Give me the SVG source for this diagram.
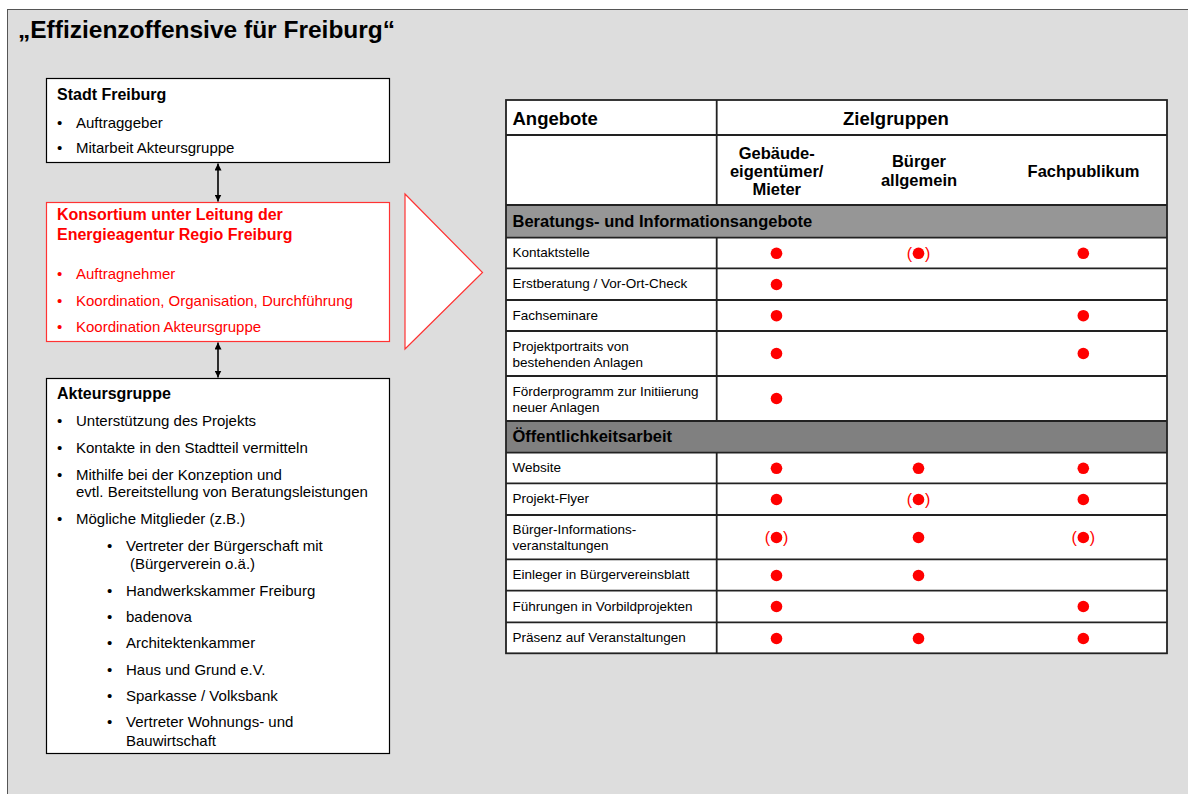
<svg xmlns="http://www.w3.org/2000/svg" width="1188" height="794" viewBox="0 0 1188 794">
<defs>
<marker id="ah" viewBox="0 0 10 10" refX="10" refY="5" markerWidth="7" markerHeight="7" orient="auto-start-reverse" markerUnits="userSpaceOnUse">
<path d="M0,0 L10,5 L0,10 Z" fill="#000"/>
</marker>
<style>
text{font-family:"Liberation Sans",Arial,Helvetica,sans-serif;}
.title{font-size:24.5px;font-weight:bold;fill:#000;}
.h{font-size:16px;font-weight:bold;fill:#000;}
.hr{font-size:16px;font-weight:bold;fill:#ff0000;}
.t{font-size:15px;fill:#000;}
.tr{font-size:15px;fill:#ff0000;}
.th{font-size:18.5px;font-weight:bold;fill:#000;}
.ch{font-size:16.5px;font-weight:bold;fill:#000;text-anchor:middle;}
.sec{font-size:16.5px;font-weight:bold;fill:#000;}
.c{font-size:13.5px;fill:#000;}
.p{font-size:16px;fill:#ff0000;}
.pe{text-anchor:end;}
.box{fill:#fff;stroke:#000;stroke-width:1.2;}
.rbox{fill:#fff;stroke:#ff3333;stroke-width:1.2;}
.grid{stroke:#222;stroke-width:1.8;fill:none;}
.dot{fill:#ff0000;}
.conn{stroke:#000;stroke-width:1.6;fill:none;}
</style>
</defs>
<rect x="0" y="0" width="1188" height="794" fill="#fff"/>
<rect x="7.5" y="9.5" width="1200" height="800" fill="#dddddd" stroke="#555" stroke-width="1"/>
<text class="title" x="18" y="38">„Effizienzoffensive für Freiburg“</text>

<g id="stadt">
<rect class="box" x="46.5" y="78.5" width="343" height="84"/>
<text class="h" x="57" y="100">Stadt Freiburg</text>
<text class="t" x="57" y="128">•</text><text class="t" x="76" y="128">Auftraggeber</text>
<text class="t" x="57" y="153">•</text><text class="t" x="76" y="153">Mitarbeit Akteursgruppe</text>
</g>

<g id="konsortium">
<rect class="rbox" x="46.5" y="202.5" width="343" height="139"/>
<text class="hr" x="57" y="219.5">Konsortium unter Leitung der</text>
<text class="hr" x="57" y="240">Energieagentur Regio Freiburg</text>
<text class="tr" x="57" y="279">•</text><text class="tr" x="76" y="279">Auftragnehmer</text>
<text class="tr" x="57" y="306">•</text><text class="tr" x="76" y="306">Koordination, Organisation, Durchführung</text>
<text class="tr" x="57" y="332">•</text><text class="tr" x="76" y="332">Koordination Akteursgruppe</text>
</g>

<g id="akteursgruppe">
<rect class="box" x="46.5" y="378.5" width="343" height="375"/>
<text class="h" x="57" y="398.5">Akteursgruppe</text>
<text class="t" x="57" y="426">•</text><text class="t" x="76" y="426">Unterstützung des Projekts</text>
<text class="t" x="57" y="452.5">•</text><text class="t" x="76" y="452.5">Kontakte in den Stadtteil vermitteln</text>
<text class="t" x="57" y="480">•</text><text class="t" x="76" y="480">Mithilfe bei der Konzeption und</text>
<text class="t" x="76" y="497">evtl. Bereitstellung von Beratungsleistungen</text>
<text class="t" x="57" y="524">•</text><text class="t" x="76" y="524">Mögliche Mitglieder (z.B.)</text>
<text class="t" x="107" y="551">•</text><text class="t" x="126" y="551">Vertreter der Bürgerschaft mit</text>
<text class="t" x="130" y="568.5">(Bürgerverein o.ä.)</text>
<text class="t" x="107" y="595.5">•</text><text class="t" x="126" y="595.5">Handwerkskammer Freiburg</text>
<text class="t" x="107" y="621.5">•</text><text class="t" x="126" y="621.5">badenova</text>
<text class="t" x="107" y="648">•</text><text class="t" x="126" y="648">Architektenkammer</text>
<text class="t" x="107" y="675">•</text><text class="t" x="126" y="675">Haus und Grund e.V.</text>
<text class="t" x="107" y="701">•</text><text class="t" x="126" y="701">Sparkasse / Volksbank</text>
<text class="t" x="107" y="727">•</text><text class="t" x="126" y="727">Vertreter Wohnungs- und</text>
<text class="t" x="126" y="746">Bauwirtschaft</text>
</g>

<g id="pfeil">
<polygon points="405,194 482.5,272.5 405,349" fill="#fff" stroke="#ff3333" stroke-width="1.2"/>
</g>

<g id="connectors">
<line class="conn" x1="218" y1="163.5" x2="218" y2="201.5" marker-start="url(#ah)" marker-end="url(#ah)"/>
<line class="conn" x1="218" y1="342.5" x2="218" y2="377.5" marker-start="url(#ah)" marker-end="url(#ah)"/>
</g>

<g id="tabelle">
<rect x="506" y="100" width="661" height="553.3" fill="#fff"/>
<rect x="506" y="205" width="661" height="32.7" fill="#969696"/>
<rect x="506" y="421" width="661" height="31.7" fill="#808080"/>
<g class="grid">
<rect x="506" y="100" width="661" height="553.3"/>
<line x1="506" y1="135" x2="1167" y2="135"/>
<line x1="506" y1="205" x2="1167" y2="205"/>
<line x1="506" y1="237.7" x2="1167" y2="237.7"/>
<line x1="506" y1="268.3" x2="1167" y2="268.3"/>
<line x1="506" y1="300" x2="1167" y2="300"/>
<line x1="506" y1="331" x2="1167" y2="331"/>
<line x1="506" y1="376" x2="1167" y2="376"/>
<line x1="506" y1="421" x2="1167" y2="421"/>
<line x1="506" y1="452.7" x2="1167" y2="452.7"/>
<line x1="506" y1="483.3" x2="1167" y2="483.3"/>
<line x1="506" y1="515" x2="1167" y2="515"/>
<line x1="506" y1="559.3" x2="1167" y2="559.3"/>
<line x1="506" y1="590.7" x2="1167" y2="590.7"/>
<line x1="506" y1="622.3" x2="1167" y2="622.3"/>
<line x1="716.7" y1="100" x2="716.7" y2="205"/>
<line x1="716.7" y1="237.7" x2="716.7" y2="421"/>
<line x1="716.7" y1="452.7" x2="716.7" y2="653.3"/>
</g>
<text class="th" x="512.5" y="124.5">Angebote</text>
<text class="th" x="843" y="124.5">Zielgruppen</text>
<text class="ch" x="776.7" y="158.5">Gebäude-</text>
<text class="ch" x="776.7" y="176.7">eigentümer/</text>
<text class="ch" x="776.7" y="195">Mieter</text>
<text class="ch" x="919" y="166.7">Bürger</text>
<text class="ch" x="919" y="186">allgemein</text>
<text class="ch" x="1083.5" y="176.7">Fachpublikum</text>
<text class="sec" x="512.5" y="226.7">Beratungs- und Informationsangebote</text>
<text class="sec" x="512.5" y="442">Öffentlichkeitsarbeit</text>

<text class="c" x="512.5" y="257">Kontaktstelle</text>
<text class="c" x="512.5" y="288">Erstberatung / Vor-Ort-Check</text>
<text class="c" x="512.5" y="319.5">Fachseminare</text>
<text class="c" x="512.5" y="350.5">Projektportraits von</text>
<text class="c" x="512.5" y="366.5">bestehenden Anlagen</text>
<text class="c" x="512.5" y="395.5">Förderprogramm zur Initiierung</text>
<text class="c" x="512.5" y="411.5">neuer Anlagen</text>
<text class="c" x="512.5" y="472">Website</text>
<text class="c" x="512.5" y="503">Projekt-Flyer</text>
<text class="c" x="512.5" y="534">Bürger-Informations-</text>
<text class="c" x="512.5" y="550">veranstaltungen</text>
<text class="c" x="512.5" y="579">Einleger in Bürgervereinsblatt</text>
<text class="c" x="512.5" y="610.5">Führungen in Vorbildprojekten</text>
<text class="c" x="512.5" y="642">Präsenz auf Veranstaltungen</text>

<g class="dot">
<circle cx="776.5" cy="253.3" r="5.8"/>
<circle cx="918.5" cy="253.3" r="5.8"/>
<circle cx="1083.3" cy="253.3" r="5.8"/>
<circle cx="776.5" cy="284.5" r="5.8"/>
<circle cx="776.5" cy="315.7" r="5.8"/>
<circle cx="1083.3" cy="315.7" r="5.8"/>
<circle cx="776.5" cy="353.5" r="5.8"/>
<circle cx="1083.3" cy="353.5" r="5.8"/>
<circle cx="776.5" cy="398.5" r="5.8"/>
<circle cx="776.5" cy="468.3" r="5.8"/>
<circle cx="918.5" cy="468.3" r="5.8"/>
<circle cx="1083.3" cy="468.3" r="5.8"/>
<circle cx="776.5" cy="499.5" r="5.8"/>
<circle cx="918.5" cy="499.5" r="5.8"/>
<circle cx="1083.3" cy="499.5" r="5.8"/>
<circle cx="776.5" cy="537.5" r="5.8"/>
<circle cx="918.5" cy="537.5" r="5.8"/>
<circle cx="1083.3" cy="537.5" r="5.8"/>
<circle cx="776.5" cy="575.5" r="5.8"/>
<circle cx="918.5" cy="575.5" r="5.8"/>
<circle cx="776.5" cy="606.5" r="5.8"/>
<circle cx="1083.3" cy="606.5" r="5.8"/>
<circle cx="776.5" cy="638.5" r="5.8"/>
<circle cx="918.5" cy="638.5" r="5.8"/>
<circle cx="1083.3" cy="638.5" r="5.8"/>
</g>
<text class="p pe" x="912" y="259">(</text><text class="p" x="925" y="259">)</text>
<text class="p pe" x="912" y="505.2">(</text><text class="p" x="925" y="505.2">)</text>
<text class="p pe" x="770" y="543.2">(</text><text class="p" x="783" y="543.2">)</text>
<text class="p pe" x="1076.8" y="543.2">(</text><text class="p" x="1089.8" y="543.2">)</text>
</g>
</svg>
